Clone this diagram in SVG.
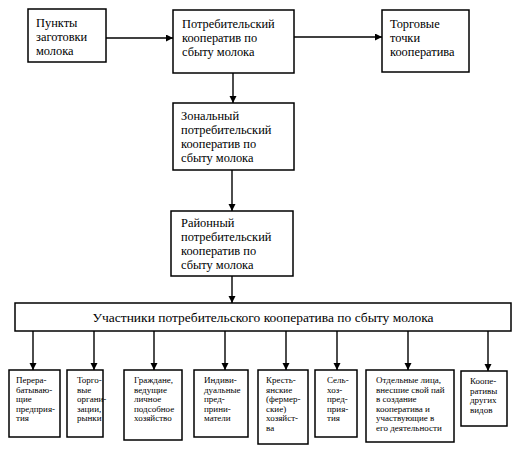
<svg xmlns="http://www.w3.org/2000/svg" width="520" height="452" viewBox="0 0 520 452">
<defs>
<marker id="arr" markerWidth="8" markerHeight="8" refX="7" refY="3.5" orient="auto" markerUnits="userSpaceOnUse">
<path d="M0,0 L7,3.5 L0,7 z" fill="#000"/>
</marker>
<style>
.box{fill:#fff;stroke:#000;stroke-width:1.5}
.t{font-family:"Liberation Serif","Times New Roman",serif;font-size:12.4px;fill:#000}
.s{font-family:"Liberation Serif","Times New Roman",serif;font-size:9px;fill:#000}
.w{font-family:"Liberation Serif","Times New Roman",serif;font-size:13.5px;fill:#000}
.c{stroke:#000;stroke-width:1.4;fill:none;marker-end:url(#arr)}
</style>
</defs>
<rect width="520" height="452" fill="#fff"/>
<g id="connectors">
<line class="c" x1="106" y1="38" x2="173" y2="38"/>
<line class="c" x1="294" y1="37" x2="382" y2="37"/>
<line class="c" x1="233" y1="73" x2="233" y2="103"/>
<line class="c" x1="232" y1="170" x2="232" y2="211"/>
<line class="c" x1="232" y1="276" x2="232" y2="303"/>
<line class="c" x1="33" y1="331" x2="33" y2="370"/>
<line class="c" x1="94" y1="331" x2="94" y2="370"/>
<line class="c" x1="154" y1="331" x2="154" y2="370"/>
<line class="c" x1="225" y1="331" x2="225" y2="370"/>
<line class="c" x1="286" y1="331" x2="286" y2="370"/>
<line class="c" x1="337" y1="331" x2="337" y2="370"/>
<line class="c" x1="408" y1="331" x2="408" y2="370"/>
<line class="c" x1="488" y1="331" x2="488" y2="371"/>
</g>
<g id="n-punkty">
<rect class="box" x="28" y="9" width="78" height="53"/>
<text class="t" x="36" y="27">Пункты</text>
<text class="t" x="36" y="41">заготовки</text>
<text class="t" x="36" y="55">молока</text>
</g>
<g id="n-koop">
<rect class="box" x="173" y="10" width="121" height="63"/>
<text class="t" x="182" y="28">Потребительский</text>
<text class="t" x="182" y="42">кооператив по</text>
<text class="t" x="182" y="56">сбыту молока</text>
</g>
<g id="n-torg">
<rect class="box" x="382" y="10" width="87" height="62"/>
<text class="t" x="390" y="28">Торговые</text>
<text class="t" x="390" y="42">точки</text>
<text class="t" x="390" y="56">кооператива</text>
</g>
<g id="n-zonal">
<rect class="box" x="173" y="103" width="121" height="67"/>
<text class="t" x="181" y="120">Зональный</text>
<text class="t" x="181" y="134">потребительский</text>
<text class="t" x="181" y="148">кооператив по</text>
<text class="t" x="181" y="162">сбыту молока</text>
</g>
<g id="n-raion">
<rect class="box" x="171" y="211" width="122" height="65"/>
<text class="t" x="181" y="227">Районный</text>
<text class="t" x="181" y="241">потребительский</text>
<text class="t" x="181" y="255">кооператив по</text>
<text class="t" x="181" y="269">сбыту молока</text>
</g>
<g id="n-uchastniki">
<rect class="box" x="15" y="303" width="496" height="28"/>
<text class="w" x="263" y="322" text-anchor="middle">Участники потребительского кооператива по сбыту молока</text>
</g>
<g id="n-b1">
<rect class="box" x="9" y="370" width="51" height="67"/>
<text class="s" x="16" y="383">Перера-</text>
<text class="s" x="16" y="392.5">батываю-</text>
<text class="s" x="16" y="402">щие</text>
<text class="s" x="16" y="411.5">предприя-</text>
<text class="s" x="16" y="421">тия</text>
</g>
<g id="n-b2">
<rect class="box" x="67" y="370" width="36" height="67"/>
<text class="s" x="77" y="383">Торго-</text>
<text class="s" x="77" y="392.5">вые</text>
<text class="s" x="77" y="402">органи-</text>
<text class="s" x="77" y="411.5">зации,</text>
<text class="s" x="77" y="421">рынки</text>
</g>
<g id="n-b3">
<rect class="box" x="124" y="370" width="58" height="70"/>
<text class="s" x="134" y="383">Граждане,</text>
<text class="s" x="134" y="392.5">ведущие</text>
<text class="s" x="134" y="402">личное</text>
<text class="s" x="134" y="411.5">подсобное</text>
<text class="s" x="134" y="421">хозяйство</text>
</g>
<g id="n-b4">
<rect class="box" x="194" y="370" width="54" height="67"/>
<text class="s" x="204" y="383">Индиви-</text>
<text class="s" x="204" y="392.5">дуальные</text>
<text class="s" x="204" y="402">пред-</text>
<text class="s" x="204" y="411.5">прини-</text>
<text class="s" x="204" y="421">матели</text>
</g>
<g id="n-b5">
<rect class="box" x="258" y="370" width="50" height="74"/>
<text class="s" x="266" y="383">Кресть-</text>
<text class="s" x="266" y="392.5">янские</text>
<text class="s" x="266" y="402">(фермер-</text>
<text class="s" x="266" y="411.5">ские)</text>
<text class="s" x="266" y="421">хозяйст-</text>
<text class="s" x="266" y="430.5">ва</text>
</g>
<g id="n-b6">
<rect class="box" x="315" y="370" width="42" height="67"/>
<text class="s" x="327" y="383">Сель-</text>
<text class="s" x="327" y="392.5">хоз-</text>
<text class="s" x="327" y="402">пред-</text>
<text class="s" x="327" y="411.5">прия-</text>
<text class="s" x="327" y="421">тия</text>
</g>
<g id="n-b7">
<rect class="box" x="366" y="370" width="88" height="72"/>
<text class="s" x="376" y="383">Отдельные лица,</text>
<text class="s" x="376" y="392.5">внесшие свой  пай</text>
<text class="s" x="376" y="402">в создание</text>
<text class="s" x="376" y="411.5">кооператива и</text>
<text class="s" x="376" y="421">участвующие в</text>
<text class="s" x="376" y="430.5">его деятельности</text>
</g>
<g id="n-b8">
<rect class="box" x="461" y="371" width="46" height="55"/>
<text class="s" x="470" y="384">Коопе-</text>
<text class="s" x="470" y="393.5">ративы</text>
<text class="s" x="470" y="403">других</text>
<text class="s" x="470" y="412.5">видов</text>
</g>
</svg>
